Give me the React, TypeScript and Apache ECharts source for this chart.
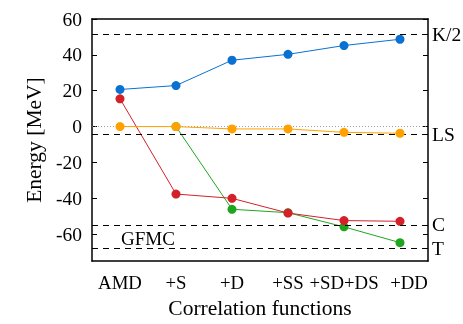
import React, { useEffect, useRef } from "react";
import * as echarts from "echarts";

const categories = ["AMD", "+S", "+D", "+SS", "+SD+DS", "+DD"];
const blueValues = [20.7, 22.9, 37.0, 40.3, 45.2, 48.7];
const redValues = [15.5, -37.6, -40.0, -48.2, -52.4, -52.8];
const greenValues: (number | null)[] = [null, 0, -46.1, -48.0, -55.9, -64.7];
const orangeValues = [0, 0, -1.3, -1.3, -3.2, -3.7];
const yTicks = [-60, -40, -20, 0, 20, 40, 60];
const refLines = [
  { name: "K/2", value: 51.4 },
  { name: "LS", value: -4.4 },
  { name: "C", value: -54.8 },
  { name: "T", value: -67.8 },
];

const FONT = "'Liberation Serif', 'DejaVu Serif', serif";

export default function App() {
  const ref = useRef<HTMLDivElement>(null);
  useEffect(() => {
    if (!ref.current) return;
    const chart = echarts.init(ref.current, null, { renderer: "svg" });
    const lineSeries = (name: string, data: (number | null)[], color: string, z: number) => ({
      name,
      type: "line",
      data,
      z,
      symbol: "circle",
      symbolSize: 9,
      itemStyle: { color },
      lineStyle: { color, width: 1 },
      connectNulls: false,
    });
    chart.setOption({
      animation: false,
      textStyle: { fontFamily: FONT },
      grid: { left: 92, top: 19, right: 35, bottom: 62 },
      xAxis: [
        {
          type: "category",
          data: categories,
          boundaryGap: true,
          name: "Correlation functions",
          nameLocation: "middle",
          nameGap: 35,
          nameTextStyle: { fontFamily: FONT, fontSize: 21.5, color: "#000" },
          axisLine: { onZero: false, lineStyle: { color: "#000", width: 1.5 } },
          axisTick: { inside: true, alignWithLabel: true, length: 5, lineStyle: { color: "#000" } },
          axisLabel: {
            interval: 0,
            fontFamily: FONT,
            fontSize: 18.8,
            color: "#000",
            margin: 12,
            formatter: (v: string, i: number) =>
              i === categories.length - 1 ? "{last|" + v + "}" : v,
            rich: {
              last: { fontFamily: FONT, fontSize: 18.8, color: "#000", padding: [0, 0, 0, 18] },
            },
          },
          splitLine: { show: false },
        },
        {
          type: "category",
          data: categories,
          position: "top",
          boundaryGap: true,
          axisLine: { onZero: false, lineStyle: { color: "#000", width: 1.5 } },
          axisTick: { inside: true, alignWithLabel: true, interval: 0, length: 5, lineStyle: { color: "#000" } },
          axisLabel: { show: false, interval: 0 },
          splitLine: { show: false },
        },
      ],
      yAxis: [
        {
          type: "value",
          min: -75,
          max: 60,
          name: "Energy [MeV]",
          nameLocation: "middle",
          nameGap: 44,
          nameTextStyle: { fontFamily: FONT, fontSize: 21.5, color: "#000" },
          axisLine: { show: true, onZero: false, lineStyle: { color: "#000", width: 1.5 } },
          axisTick: { show: true, inside: true, length: 5, customValues: yTicks, lineStyle: { color: "#000" } },
          axisLabel: { fontFamily: FONT, fontSize: 19.5, color: "#000", customValues: yTicks, margin: 10 },
          splitLine: { show: false },
        },
        {
          type: "value",
          min: -75,
          max: 60,
          position: "right",
          axisLine: { show: true, onZero: false, lineStyle: { color: "#000", width: 1.5 } },
          axisTick: { show: true, inside: true, length: 5, customValues: yTicks, lineStyle: { color: "#000" } },
          axisLabel: { show: false },
          splitLine: { show: false },
        },
      ],
      series: [
        {
          type: "line",
          data: [],
          markLine: {
            silent: true,
            symbol: "none",
            data: [
              {
                yAxis: 0,
                lineStyle: { color: "#888", type: [1, 2], width: 0.8 },
                label: { show: false },
              },
              ...refLines.map((r) => ({
                yAxis: r.value,
                lineStyle: { color: "#000", type: [6, 5], width: 1 },
                label: {
                  show: true,
                  position: "end",
                  formatter: r.name,
                  fontFamily: FONT,
                  fontSize: 19.5,
                  color: "#000",
                  distance: 4,
                },
              })),
            ],
          },
        },
        lineSeries("green", greenValues, "#1fa51f", 3),
        lineSeries("red", redValues, "#d42129", 4),
        lineSeries("orange", orangeValues, "#ffa100", 5),
        lineSeries("blue", blueValues, "#0a71d3", 6),
      ],
      graphic: [
        {
          type: "text",
          left: 121,
          top: 229,
          style: { text: "GFMC", fontFamily: FONT, fontSize: 19, fill: "#000" },
        },
      ],
    });
    return () => chart.dispose();
  }, []);
  return (
    <div
      ref={ref}
      style={{ position: "fixed", left: 0, top: 0, width: 463, height: 324 }}
    />
  );
}
